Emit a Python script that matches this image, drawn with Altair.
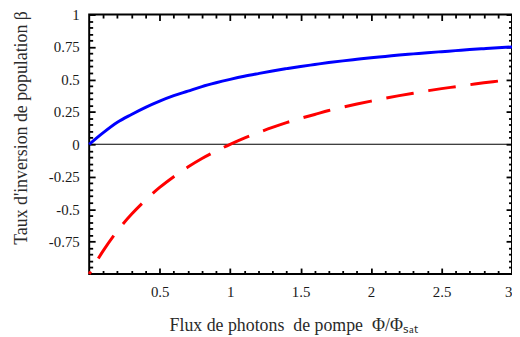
import altair as alt
import pandas as pd

# Values
x_vals = [0.0, 0.1, 0.2, 0.3, 0.4, 0.5, 0.6, 0.7, 0.8, 0.9, 1.0,
          1.1, 1.2, 1.3, 1.4, 1.5, 1.6, 1.7, 1.8, 1.9, 2.0,
          2.1, 2.2, 2.3, 2.4, 2.5, 2.6, 2.7, 2.8, 2.9, 3.0]
blue_vals = [0.0, 0.09, 0.17, 0.23, 0.285, 0.333, 0.375, 0.41, 0.445, 0.474, 0.5,
             0.524, 0.545, 0.565, 0.583, 0.6, 0.615, 0.63, 0.643, 0.655, 0.667,
             0.677, 0.688, 0.697, 0.706, 0.714, 0.722, 0.73, 0.737, 0.744, 0.75]
red_vals = [-1.0, -0.82, -0.667, -0.54, -0.43, -0.333, -0.25, -0.176, -0.11, -0.053, 0.0,
            0.048, 0.09, 0.13, 0.167, 0.2, 0.23, 0.26, 0.286, 0.31, 0.333,
            0.355, 0.375, 0.394, 0.412, 0.429, 0.444, 0.459, 0.474, 0.487, 0.5]

x_major = [0.5, 1.0, 1.5, 2.0, 2.5, 3.0]
x_minor = [0.1, 0.2, 0.3, 0.4, 0.6, 0.7, 0.8, 0.9, 1.1, 1.2, 1.3, 1.4,
           1.6, 1.7, 1.8, 1.9, 2.1, 2.2, 2.3, 2.4, 2.6, 2.7, 2.8, 2.9]
y_major = [-0.75, -0.5, -0.25, 0.0, 0.25, 0.5, 0.75, 1.0]
y_minor = [-0.95, -0.9, -0.85, -0.8, -0.7, -0.65, -0.6, -0.55, -0.45, -0.4, -0.35, -0.3,
           -0.2, -0.15, -0.1, -0.05, 0.05, 0.1, 0.15, 0.2, 0.3, 0.35, 0.4, 0.45,
           0.55, 0.6, 0.65, 0.7, 0.8, 0.85, 0.9, 0.95]

NB = "\u00a0"
x_title = "Flux de photons" + NB + NB + "de pompe" + NB + NB + "Φ/Φₛₐₜ"
y_title = "Taux d'inversion de population β"

df = pd.DataFrame({"x": x_vals, "blue": blue_vals, "red": red_vals})

FONT = "Liberation Serif"
xs = alt.Scale(domain=[0, 3], nice=False, zero=False)
ys = alt.Scale(domain=[-1, 1], nice=False, zero=False)

LAB = dict(labelExpr="toString(datum.value)", labelFont=FONT, labelFontSize=15,
           labelColor="#1a1a1a")
TIT = dict(titleFont=FONT, titleFontSize=18, titleFontWeight="normal",
           titleColor="#2a2a2a")
TICK = dict(domain=False, grid=False, ticks=True, tickColor="black", tickWidth=1.8)
MAJ = 6
MIN = 3.5


def plain_axis(orient, values, size):
    return alt.Axis(orient=orient, values=values, tickSize=size, offset=-size,
                    labels=False, title=None, **TICK)


base = alt.Chart(df)

blue = base.mark_line(color="#0000ff", strokeWidth=3, interpolate="monotone").encode(
    x=alt.X("x:Q", scale=xs,
            axis=alt.Axis(orient="bottom", values=x_major, tickSize=MAJ, offset=-MAJ,
                          labels=True, labelPadding=11, title=x_title,
                          titleX=206, titleY=58, titleBaseline="middle",
                          **TICK, **LAB, **TIT)),
    y=alt.Y("blue:Q", scale=ys,
            axis=alt.Axis(orient="left", values=y_major, tickSize=MAJ, offset=-MAJ,
                          labels=True, labelPadding=10, title=y_title,
                          titleX=-74, titleY=114, titleBaseline="middle",
                          **TICK, **LAB, **TIT)),
)

red = base.mark_line(color="#ff0000", strokeWidth=3, strokeDash=[28, 15],
                     strokeDashOffset=25, interpolate="monotone").encode(
    x=alt.X("x:Q", scale=xs, axis=plain_axis("bottom", x_minor, MIN)),
    y=alt.Y("red:Q", scale=ys, axis=plain_axis("left", y_minor, MIN)),
)

top_major = base.mark_line(opacity=0).encode(
    x=alt.X("x:Q", scale=xs, axis=plain_axis("top", x_major, MAJ)),
    y=alt.Y("blue:Q", scale=ys, axis=plain_axis("right", y_major, MAJ)),
)

top_minor = base.mark_line(opacity=0).encode(
    x=alt.X("x:Q", scale=xs, axis=plain_axis("top", x_minor, MIN)),
    y=alt.Y("blue:Q", scale=ys, axis=plain_axis("right", y_minor, MIN)),
)

zero = base.mark_rule(color="black", strokeWidth=1.2).encode(
    y=alt.Y("z:Q", scale=ys, axis=None)
).transform_calculate(z="0").transform_filter("datum.x == 0")

chart = alt.layer(zero, top_major, top_minor, red, blue).resolve_axis(
    x="independent", y="independent"
).properties(
    width=427, height=262,
    autosize="none",
    padding={"left": 82, "top": 5, "right": 0, "bottom": 62},
    background="white",
).configure_view(stroke="black", strokeWidth=2)

chart.save("out.html", embed_options={"renderer": "svg", "actions": False})
